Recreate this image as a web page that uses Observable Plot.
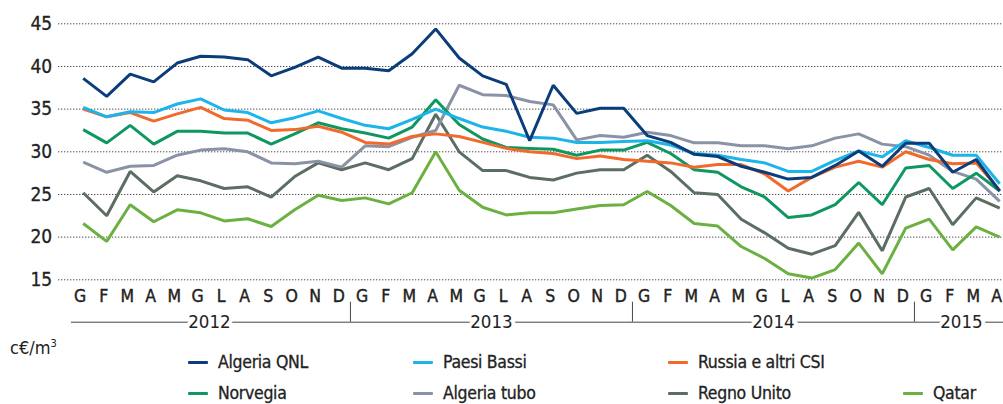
<!DOCTYPE html>
<html>
<head>
<meta charset="utf-8">
<script src="https://cdn.jsdelivr.net/npm/d3@7"></script>
<script src="https://cdn.jsdelivr.net/npm/@observablehq/plot@0.6"></script>
<style>
  html, body { margin: 0; padding: 0; background: #fff; }
  #wrap { position: relative; width: 1003px; height: 404px; font-family: "Liberation Sans Narrow", "DejaVu Sans Condensed", sans-serif; color: #222; }
  #wrap svg { position: absolute; left: 0; top: 0; }
  .unit { position: absolute; left: 10px; top: 337px; font-size: 18px; }
  .unit sup { font-size: 11px; vertical-align: 7px; }
  .lg { position: absolute; display: flex; align-items: center; font-size: 17.5px; letter-spacing: -0.3px; white-space: nowrap; -webkit-text-stroke: 0.3px #222; }
  .lg .sw { width: 20px; height: 3px; margin-right: 10px; border-radius: 1px; }
</style>
</head>
<body>
<div id="wrap"></div>
<script>
// ---- data ----
const monthLabels = ["G","F","M","A","M","G","L","A","S","O","N","D",
                     "G","F","M","A","M","G","L","A","S","O","N","D",
                     "G","F","M","A","M","G","L","A","S","O","N","D",
                     "G","F","M","A"];
const years = ["2012", "2013", "2014", "2015"];
const yearFirst = [0, 12, 24, 36];
const yearLast = [11, 23, 35, 39];
const yTicks = [15, 20, 25, 30, 35, 40, 45];
const unitLabel = "c€/m";

const seriesNames = ["Algeria QNL", "Paesi Bassi", "Russia e altri CSI", "Norvegia", "Algeria tubo", "Regno Unito", "Qatar"];
const seriesColors = ["#0b3d7a", "#1db4ea", "#f26a2b", "#0f9762", "#8a93a5", "#5c6d62", "#6bb041"];

const algeriaQNL = [38.6,36.5,39.1,38.2,40.4,41.2,41.1,40.8,38.9,39.9,41.1,39.8,
                    39.8,39.5,41.5,44.4,41.0,38.9,37.9,31.3,37.8,34.5,35.1,35.1,
                    31.9,31.1,29.7,29.45,28.3,27.6,26.8,27.0,28.4,30.1,28.3,31.0,
                    31.0,27.6,29.1,25.4];
const paesiBassi = [35.2,34.1,34.7,34.6,35.6,36.2,34.9,34.6,33.4,34.0,34.8,33.9,
                    33.1,32.7,33.8,35.0,33.9,32.9,32.4,31.7,31.6,31.1,31.1,31.2,
                    31.3,30.8,29.8,29.6,29.1,28.7,27.7,27.7,29.0,30.1,29.4,31.3,
                    30.5,29.6,29.6,26.25];
const russia = [35.0,34.1,34.6,33.6,34.45,35.2,33.9,33.7,32.5,32.6,33.0,32.3,
                31.1,30.9,31.8,32.1,31.8,31.1,30.4,30.0,29.8,29.2,29.5,29.1,
                28.9,28.7,28.2,28.5,28.5,27.4,25.4,27.0,28.2,28.9,28.2,30.0,
                29.1,28.6,28.7,25.5];
const norvegia = [32.6,31.05,33.1,30.9,32.4,32.4,32.2,32.2,30.9,32.1,33.4,32.7,
                  32.2,31.6,32.9,36.1,33.2,31.5,30.5,30.4,30.3,29.6,30.2,30.2,
                  31.1,29.8,27.9,27.6,25.9,24.7,22.3,22.6,23.8,26.4,23.8,28.1,
                  28.4,25.7,27.5,25.4];
const algeriaTubo = [28.8,27.6,28.3,28.4,29.6,30.2,30.35,30.0,28.7,28.6,28.9,28.2,
                     30.7,30.6,31.7,32.5,37.8,36.7,36.6,35.9,35.5,31.4,31.9,31.7,
                     32.3,31.9,31.05,31.05,30.7,30.7,30.35,30.7,31.6,32.1,30.9,30.6,
                     29.6,27.7,26.8,24.2];
const regnoUnito = [25.2,22.5,27.7,25.3,27.2,26.6,25.7,25.9,24.7,27.1,28.7,27.9,
                    28.7,27.9,29.2,34.4,30.0,27.8,27.8,27.0,26.7,27.5,27.9,27.9,
                    29.6,27.7,25.2,25.0,22.1,20.5,18.7,18.0,19.0,22.9,18.4,24.7,
                    25.7,21.45,24.6,23.4];
const qatar = [21.6,19.5,23.8,21.8,23.2,22.85,21.9,22.15,21.25,23.2,24.9,24.3,
               24.6,23.9,25.2,30.0,25.5,23.5,22.6,22.85,22.85,23.3,23.7,23.8,
               25.35,23.7,21.6,21.3,18.9,17.5,15.7,15.2,16.2,19.3,15.7,21.05,
               22.1,18.5,21.2,20.0];

const seriesValues = [algeriaQNL, paesiBassi, russia, norvegia, algeriaTubo, regnoUnito, qatar];

// ---- tidy table (draw order: bottom first, navy on top) ----
const drawOrder = [6, 5, 4, 3, 2, 1, 0];
const rows = [];
for (const s of drawOrder) {
  seriesValues[s].forEach((v, i) => rows.push({series: seriesNames[s], i, value: v}));
}
const idx = monthLabels.map((_, i) => i);
const yearRows = years.map((y, k) => ({year: y, mid: (yearFirst[k] + yearLast[k]) / 2}));
const bounds = yearFirst.slice(1).map(f => f - 0.5);

const font = "'Liberation Sans Narrow', 'DejaVu Sans Condensed', sans-serif";
const ink = "#222";

const chart = Plot.plot({
  width: 1003,
  height: 334,
  marginLeft: 0, marginRight: 0, marginTop: 0, marginBottom: 0,
  style: {fontFamily: font, background: "transparent", overflow: "visible"},
  x: {domain: [0, monthLabels.length - 1], range: [82.7, 999.2], axis: null},
  y: {domain: [15, 45], range: [279.3, 23.3], axis: null},
  color: {domain: seriesNames, range: seriesColors},
  marks: [
    Plot.ruleY(yTicks, {x1: -1.05, x2: 39.2, stroke: "#444", strokeWidth: 1, strokeDasharray: "1.3,1.7"}),
    Plot.text(yTicks, {x: 0, y: d => d, text: d => String(d), textAnchor: "end", dx: -31, fontSize: 19, fill: ink, stroke: ink, strokeWidth: 0.3}),
    Plot.text(idx, {x: d => d, y: 15, text: d => monthLabels[d], dy: 17, dx: -3, fontSize: 17.5, fill: ink, stroke: ink, strokeWidth: 0.4}),
    Plot.ruleY([15], {x1: -0.5, x2: 39.2, dy: 42.4, stroke: "#444", strokeWidth: 1}),
    Plot.ruleX(bounds, {y1: 15, y2: 15, insetBottom: -20, dy: 22.4, dx: -3, stroke: "#444", strokeWidth: 1}),
    Plot.text(yearRows, {x: "mid", y: 15, text: "year", dy: 42, dx: -3, fontSize: 18.5, fill: ink, stroke: "white", strokeWidth: 8}),
    Plot.line(rows, {x: "i", y: "value", z: "series", stroke: "series", strokeWidth: 3, strokeLinejoin: "miter", strokeLinecap: "butt"})
  ]
});

const wrap = document.getElementById("wrap");
wrap.appendChild(chart);

const unit = document.createElement("div");
unit.className = "unit";
unit.innerHTML = unitLabel + "<sup>3</sup>";
wrap.appendChild(unit);

// legend layout
const legendPos = [[188, 362], [413, 362], [668, 362], [188, 393], [413, 393], [668, 393], [903, 393]];
seriesNames.forEach((name, k) => {
  const el = document.createElement("div");
  el.className = "lg";
  el.style.left = legendPos[k][0] + "px";
  el.style.top = (legendPos[k][1] - 12) + "px";
  el.style.height = "24px";
  const sw = document.createElement("span");
  sw.className = "sw";
  sw.style.background = seriesColors[k];
  const tx = document.createElement("span");
  tx.textContent = name;
  el.appendChild(sw);
  el.appendChild(tx);
  wrap.appendChild(el);
});
</script>
</body>
</html>
